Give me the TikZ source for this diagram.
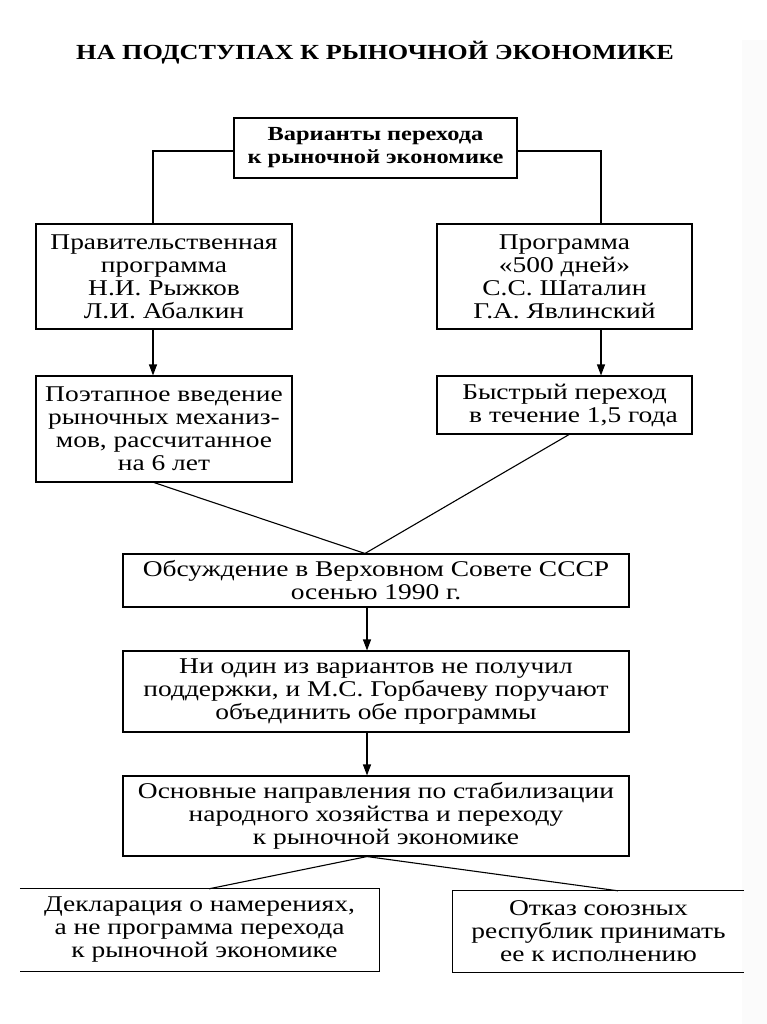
\documentclass[tikz,border=0pt]{standalone}
\usepackage{fontspec}
\setmainfont{Liberation Serif}[FakeStretch=1.22]
\usetikzlibrary{arrows.meta}
\begin{document}
\begin{tikzpicture}[x=1pt,y=-1pt,
  box/.style={draw, line width=1.1pt, inner sep=0pt, align=center,
    font=\fontsize{22.5}{23}\selectfont},
  openbox/.style={inner sep=0pt, align=center, font=\fontsize{22.5}{23}\selectfont},
  edge/.style={line width=1.1pt},
  arr/.style={line width=1.1pt, -{Triangle[width=8pt,length=11pt]}}]
\useasboundingbox (0,0) rectangle (767,1024);
\fill[white] (0,0) rectangle (767,1024);
\fill[black!1.5] (742,40) rectangle (767,1024);

\node[font=\bfseries\fontsize{21.5}{23}\selectfont] (title) at (375,53) {НА ПОДСТУПАХ К РЫНОЧНОЙ ЭКОНОМИКЕ};

\node[box, minimum width=283pt, minimum height=60pt, font=\bfseries\fontsize{20}{23}\selectfont] (top) at (375.5,148) {Варианты перехода\\к рыночной экономике};

\node[box, minimum width=256pt, minimum height=105pt] (b1l) at (164,276.5) {Правительственная\\программа\\Н.И. Рыжков\\Л.И. Абалкин};
\node[box, minimum width=255pt, minimum height=105pt] (b1r) at (564.5,276.5) {Программа\\«500 дней»\\С.С. Шаталин\\Г.А. Явлинский};

\node[box, minimum width=256pt, minimum height=106pt] (b2l) at (164,429) {Поэтапное введение\\рыночных механиз-\\мов, рассчитанное\\на 6 лет};
\node[box, minimum width=255pt, minimum height=58pt] (b2r) at (564.5,405) {Быстрый переход\\\hspace*{18pt}в течение 1,5 года};

\node[box, minimum width=506pt, minimum height=53pt] (b3) at (376,580.5) {Обсуждение в Верховном Совете СССР\\осенью 1990 г.};
\node[box, minimum width=506pt, minimum height=81pt] (b4) at (376,691.5) {Ни один из вариантов не получил\\поддержки, и М.С. Горбачеву поручают\\объединить обе программы};
\node[box, minimum width=506pt, minimum height=80pt] (b5) at (376,816) {Основные направления по стабилизации\\народного хозяйства и переходу\hspace*{12pt}\\\hspace*{20pt}к рыночной экономике};

\node[openbox, minimum width=359pt, minimum height=82pt] (b6l) at (199.5,930) {Декларация о намерениях,\\а не программа перехода\\\hspace*{10pt}к рыночной экономике};
\node[openbox, minimum width=291pt, minimum height=81pt] (b6r) at (598.5,931.5) {Отказ союзных\\республик принимать\\ее к исполнению};
\draw[edge] (b6l.north west) -- (b6l.north east) -- (b6l.south east) -- (b6l.south west);
\draw[edge] (b6r.north east) -- (b6r.north west) -- (b6r.south west) -- (b6r.south east);

\draw[edge] ([yshift=-3pt]top.west) -| ([xshift=-11pt]b1l.north);
\draw[edge] ([yshift=-3pt]top.east) -| ([xshift=36.5pt]b1r.north);
\draw[arr] ([xshift=-11pt]b1l.south) -- ([xshift=-11pt]b2l.north);
\draw[arr] ([xshift=36.5pt]b1r.south) -- ([xshift=36.5pt]b2r.north);
\draw[edge] ([xshift=-10pt]b2l.south) -- ([xshift=-11pt]b3.north);
\draw[edge] ([xshift=4.5pt]b2r.south) -- ([xshift=-11pt]b3.north);
\draw[arr] ([xshift=-9pt]b3.south) -- ([xshift=-9pt]b4.north);
\draw[arr] ([xshift=-9pt]b4.south) -- ([xshift=-9pt]b5.north);
\draw[edge] ([xshift=-9pt]b5.south) -- ([xshift=9.5pt]b6l.north);
\draw[edge] ([xshift=-9pt]b5.south) -- ([xshift=19.5pt]b6r.north);
\end{tikzpicture}
\end{document}
